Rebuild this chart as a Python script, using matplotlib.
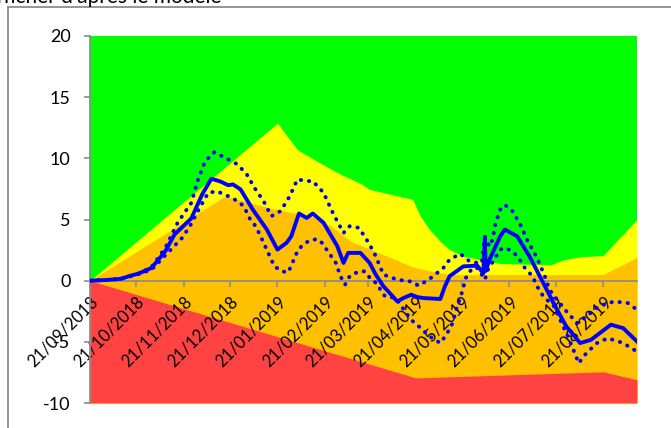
import matplotlib
matplotlib.use('Agg')
import matplotlib.pyplot as plt
import matplotlib.dates as mdates
from matplotlib.lines import Line2D
import datetime as dt

plt.rcParams['font.family'] = ['Lato', 'DejaVu Sans']
plt.rcParams['axes.unicode_minus'] = False

# dates de l'axe (jours depuis le 21/09/2018)
start = dt.date(2018, 9, 21)
end_day = 356
tick_labels = ['21/09/2018', '21/10/2018', '21/11/2018', '21/12/2018', '21/01/2019', '21/02/2019',
               '21/03/2019', '21/04/2019', '21/05/2019', '21/06/2019', '21/07/2019', '21/08/2019']

# zones de fond (bord supérieur de chaque zone)
red_days = [0, 212, 334, 356]
red_top = [0, -7.95, -7.45, -8.1]
orange_days = [0, 88, 115, 145, 157, 170, 183, 196, 209, 222, 235, 334, 356]
orange_top = [0, 6.9, 6.0, 5.2, 4.45, 3.2, 2.54, 1.86, 1.17, 0.76, 0.49, 0.5, 1.9]
yellow_days = [0, 122, 135, 150, 163, 176, 182, 210, 215, 221, 228, 234, 243, 254, 267, 300, 308, 319, 334, 356]
yellow_top = [0, 12.87, 10.7, 9.6, 8.7, 7.95, 7.46, 6.64, 5.27, 4.18, 3.2, 2.54, 2.0, 1.72, 1.4, 1.3, 1.7, 1.95, 2.05, 5.0]

# courbe principale
main_days = [0, 10, 20, 25, 32, 40, 49, 55, 66, 73, 79, 85, 90, 93, 98, 106, 115, 122, 128, 131, 136, 141, 145, 152,
             161, 165, 168, 176, 182, 186, 191, 195, 200, 204, 209, 213, 217, 228, 231, 234, 243, 252, 256, 257, 257.6,
             260, 267, 270, 278, 286, 295, 304, 310, 319, 326, 339, 347, 356]
main_vals = [0, 0.05, 0.15, 0.35, 0.6, 1.04, 2.4, 3.77, 5.1, 7.05, 8.33, 8.1, 7.8, 7.87, 7.46, 5.8, 4.2, 2.54, 3.1, 3.63,
             5.49, 5.13, 5.49, 4.73, 2.81, 1.45, 2.27, 2.27, 1.45, 0.49, -0.46, -1.0, -1.7, -1.42, -1.15, -1.34, -1.42,
             -1.5, -0.46, 0.36, 1.17, 1.23, 0.6, 3.5, 0.8, 1.72, 3.63, 4.18, 3.63, 2.0, -0.19, -2.38, -3.74, -5.1, -4.84,
             -3.6, -3.88, -4.97]

# bornes haute et basse (pointillés)
up_days = [0, 10, 20, 25, 32, 40, 49, 57, 66, 70, 75, 81, 87, 92, 96, 102, 107, 113, 118, 124, 130, 135, 141, 145, 152,
           158, 165, 169, 175, 180, 185, 191, 200, 208, 214, 221, 230, 234, 241, 247, 252, 255, 257, 260, 262, 264, 267,
           270, 275, 280, 285, 291, 296, 299, 304, 310, 317, 323, 331, 341, 350, 356]
up_vals = [0, 0.05, 0.15, 0.35, 0.6, 1.1, 2.68, 4.73, 6.37, 8.14, 9.78, 10.5, 10.1, 9.78, 9.5, 8.7, 7.6, 6.5, 5.27, 5.68,
           6.9, 8.28, 8.14, 8.14, 7.19, 5.55, 3.9, 4.45, 4.32, 3.36, 2.27, 0.49, 0.08, -0.05, -0.41, 0.14, 1.04, 1.72, 2.2,
           1.58, 1.45, 1.45, 3.6, 2.8, 3.36, 4.7, 5.8, 6.2, 5.68, 4.6, 3.2, 1.86, 0.36, -0.74, -1.56, -2.5, -3.47, -2.92,
           -2.1, -1.7, -1.83, -2.38]
lo_days = [0, 10, 20, 25, 32, 40, 50, 60, 65, 72, 77, 83, 87, 91, 96, 100, 104, 107, 110, 112, 116, 120, 125, 129, 131,
           135, 138, 143, 148, 151, 154, 157, 160, 163, 166, 169, 175, 179, 183, 187, 189, 192, 199, 202, 205, 209, 214,
           221, 228, 232, 236, 239, 242, 245, 249, 252, 255, 257, 259, 263, 267, 270, 275, 279, 283, 288, 291, 295, 302,
           306, 311, 316, 318, 323, 330, 337, 347, 356]
lo_vals = [0, 0.05, 0.15, 0.3, 0.55, 0.9, 2.2, 3.5, 4.45, 6.1, 7.19, 7.3, 7.05, 6.86, 6.5, 6.1, 5.08, 4.59, 3.9, 3.36,
           2.27, 1.17, 0.76, 0.68, 1.23, 2.4, 2.87, 3.3, 3.4, 3.09, 2.54, 2.0, 1.45, 0.36, -0.33, 0.36, 0.76, 0.76, 0.08,
           -0.25, -0.74, -1.28, -1.42, -1.97, -2.5, -3.2, -3.74, -4.56, -5.1, -4.4, -3.47, -2.1, -1.0, 0.36, 1.04, 1.04,
           0.49, 0.08, 0.9, 1.72, 2.54, 2.68, 2.4, 1.86, 1.04, 0.36, -0.46, -1.28, -2.1, -3.2, -4.56, -6.07, -6.75, -5.93,
           -5.1, -4.7, -5.1, -5.8]


def to_num(days):
    base = mdates.date2num(start)
    return [base + d for d in days]


fig = plt.figure(figsize=(6.71, 4.28), dpi=100)
# cadre du graphique (coupé)
fig.add_artist(Line2D([8 / 671, 8 / 671], [0, 1 - 7 / 428], transform=fig.transFigure, color='#8c8c8c', lw=1.3))
fig.add_artist(Line2D([8 / 671, 1], [1 - 7 / 428, 1 - 7 / 428], transform=fig.transFigure, color='#8c8c8c', lw=1.3))
fig.text(222 / 671, 1 - 3 / 428, "Afficher d'après le modèle", fontsize=15, va='baseline', ha='right')

ax = fig.add_axes([90 / 671, 25 / 428, 547 / 671, 367 / 428])
ax.set_facecolor('#00FF00')
ax.fill_between(to_num(yellow_days), -10, yellow_top, color='#FFFF00', lw=0, zorder=1)
ax.fill_between(to_num(orange_days), -10, orange_top, color='#FFC000', lw=0, zorder=1)
ax.fill_between(to_num(red_days), -10, red_top, color='#FF4343', lw=0, zorder=1)

ax.plot(to_num(up_days), up_vals, color='#0000FF', lw=2.8, linestyle=(0, (0.1, 2)), dash_capstyle='round', zorder=3)
ax.plot(to_num(lo_days), lo_vals, color='#0000FF', lw=2.8, linestyle=(0, (0.1, 2)), dash_capstyle='round', zorder=3)
ax.plot(to_num(main_days), main_vals, color='#0000FF', lw=2.8, solid_joinstyle='round', zorder=4)

for s in ['top', 'right']:
    ax.spines[s].set_visible(False)
ax.spines['bottom'].set_position(('data', 0))
ax.spines['bottom'].set_color('#8c8c8c')
ax.spines['left'].set_color('#8c8c8c')
ax.spines['bottom'].set_linewidth(1.3)
ax.spines['left'].set_linewidth(1.3)
ax.spines['bottom'].set_zorder(2.5)

ax.set_xlim(to_num([0])[0], to_num([end_day])[0])
ax.set_ylim(-10, 20)
ax.set_yticks(range(-10, 21, 5))

ticks = [mdates.date2num(dt.datetime.strptime(t, '%d/%m/%Y')) for t in tick_labels]
ax.set_xticks(ticks)
ax.set_xticklabels(tick_labels, rotation=45, ha='right', va='top', rotation_mode='anchor')
ax.tick_params(axis='x', length=4, width=1.2, color='#8c8c8c', labelsize=12, pad=5)
ax.tick_params(axis='y', length=4, width=1.2, color='#8c8c8c', labelsize=13, pad=10)

plt.savefig('out.png', dpi=100)
